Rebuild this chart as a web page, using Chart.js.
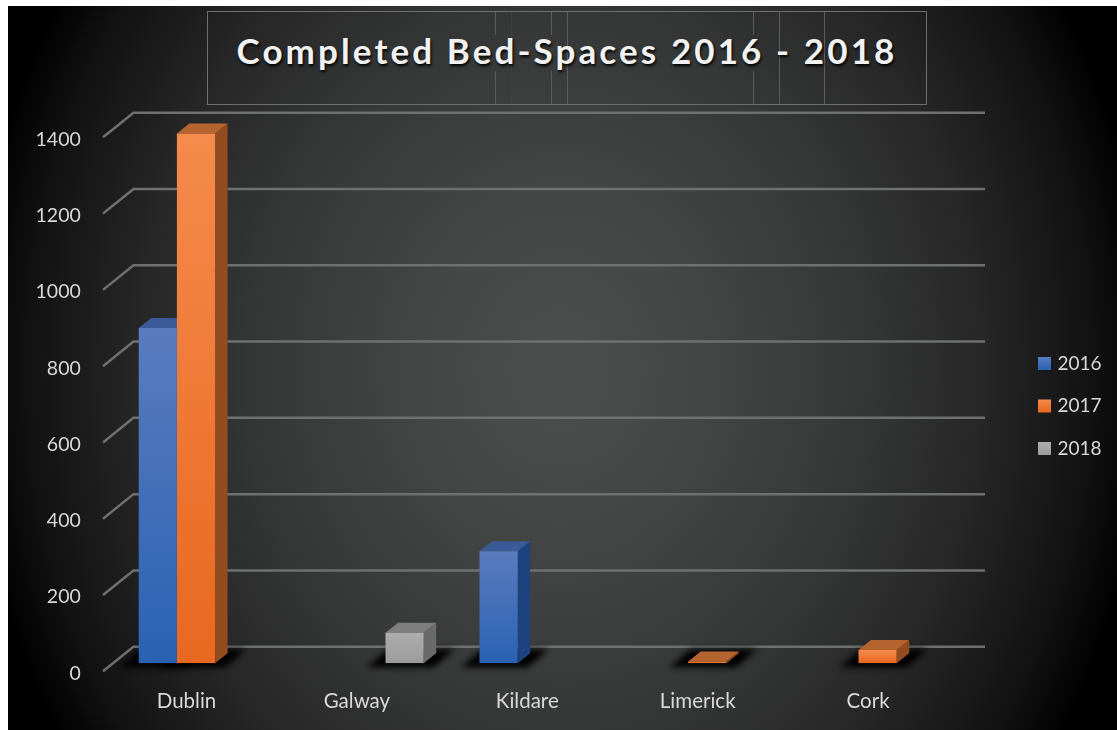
<!DOCTYPE html>
<html lang="en">
<head>
  <meta charset="UTF-8" />
  <title>Completed Bed-Spaces 2016 - 2018</title>
  <script src="https://cdn.jsdelivr.net/npm/chart.js"></script>
  <style>
    html, body { margin: 0; padding: 0; background: #fff; overflow: hidden; }
    #panel {
      position: absolute; left: 8px; top: 6px; width: 1109px; height: 724px;
      background: radial-gradient(ellipse 590px 700px at 552px 362px, #4c4e4d 0%, #454746 22%, #363737 50%, #252625 72%, #121212 90%, #000 100%);
    }
    #titlebox {
      position: absolute; left: 207px; top: 11px; width: 718px; height: 92px;
      border: 1px solid #6f6f6f;
    }
    #titlebox h1 {
      position: absolute; left: 0; right: 0; top: 17px; margin: 0; text-align: center;
      font: 700 35px Lato, sans-serif; letter-spacing: 3.1px; color: #f2f2f2;
      text-shadow: 1px 2px 3px #000;
    }
    .seam { position: absolute; width: 1px; top: 0; bottom: 0; background: #5c5c5c; }
    .seam.cut { background: linear-gradient(to bottom, #5c5c5c 0 23px, transparent 23px 59px, #5c5c5c 59px); }
    .seam.faint { background: #3f4040; }
    #wrap { position: absolute; left: 0; top: 0; width: 1117px; height: 730px; }
  </style>
</head>
<body>
  <div id="panel"></div>
  <div id="titlebox">
    <div class="seam cut" style="left:287px"></div>
    <div class="seam faint" style="left:303px"></div>
    <div class="seam cut" style="left:343px"></div>
    <div class="seam" style="left:359px"></div>
    <div class="seam cut" style="left:545px"></div>
    <div class="seam" style="left:571px"></div>
    <div class="seam" style="left:616px"></div>
    <h1>Completed Bed-Spaces 2016 - 2018</h1>
  </div>
  <div id="wrap"><canvas id="bedChart" width="1117" height="730"></canvas></div>

  <script>
    const categories = ['Dublin', 'Galway', 'Kildare', 'Limerick', 'Cork'];
    const values2016 = [879, null, 294, null, null];
    const values2017 = [1389, null, null, 5, 35];
    const values2018 = [null, 80, null, null, null];
    const tickStep = 200;
    const tickMax = 1400;

    // front light -> front dark, side, top
    const blue = { light: '#5a7cc0', dark: '#2a62b2', side: '#1c4380', top: '#3a5b98' };
    const orange = { light: '#f58b4c', dark: '#e8681f', side: '#934b20', top: '#b5642f' };
    const grey = { light: '#adadad', dark: '#9b9b9b', side: '#6a6a6a', top: '#7f7f7f' };

    const depthX = 12.5, depthY = 10;

    function barFill(colors) {
      return c => {
        const chart = c.chart;
        if (c.type !== 'data' || !chart.chartArea || c.raw == null) return colors.dark;
        const y = chart.scales.y;
        const g = chart.ctx.createLinearGradient(0, y.getPixelForValue(c.raw), 0, y.getPixelForValue(0));
        g.addColorStop(0, colors.light);
        g.addColorStop(1, colors.dark);
        return g;
      };
    }

    function poly(ctx, pts, fill) {
      ctx.beginPath();
      pts.forEach((p, i) => i ? ctx.lineTo(p[0], p[1]) : ctx.moveTo(p[0], p[1]));
      ctx.closePath();
      ctx.fillStyle = fill;
      ctx.fill();
    }

    const depthPlugin = {
      id: 'depth',
      beforeDatasetsDraw(chart) {
        const ctx = chart.ctx, yScale = chart.scales.y;
        ctx.save();
        ctx.strokeStyle = '#6f7070';
        ctx.lineWidth = 2.5;
        yScale.ticks.forEach(t => {
          const y = yScale.getPixelForValue(t.value);
          ctx.beginPath();
          ctx.moveTo(103, y + 8);
          ctx.lineTo(133.5, y - 16.6);
          ctx.lineTo(985, y - 16.6);
          ctx.stroke();
        });

        chart.data.datasets.forEach((ds, i) => {
          chart.getDatasetMeta(i).data.forEach((bar, j) => {
            if (ds.data[j] == null) return;
            const l = bar.x - bar.width / 2, r = bar.x + bar.width / 2, b = bar.base;
            ctx.save();
            ctx.filter = 'blur(3px)';
            poly(ctx, [[l - 19, b + 4], [r + 10, b + 4], [r + 31, b - 14], [l + 3, b - 14]], '#000');
            ctx.restore();
          });
        });

        chart.data.datasets.forEach((ds, i) => {
          const colors = ds.faces;
          chart.getDatasetMeta(i).data.forEach((bar, j) => {
            if (ds.data[j] == null) return;
            const l = bar.x - bar.width / 2, r = bar.x + bar.width / 2, t = bar.y, b = bar.base;
            poly(ctx, [[r, t], [r + depthX, t - depthY], [r + depthX, b - depthY], [r, b]], colors.side);
            poly(ctx, [[l, t], [l + depthX, t - depthY], [r + depthX, t - depthY], [r, t]], colors.top);
          });
        });
        ctx.restore();
      },
      afterLayout(chart) {
        // legend sits away from the plot, move its box over there
        const lg = chart.legend;
        lg.left = 1017.5;
        lg.right = 1117;
        lg.top = 330.5;
        lg.bottom = 730;
      }
    };

    function legendLabels(chart) {
      return Chart.defaults.plugins.legend.labels.generateLabels(chart).map((item, i) => {
        const colors = chart.data.datasets[i].faces;
        const top = 357 + i * 42.5;
        const g = chart.ctx.createLinearGradient(0, top, 0, top + 13);
        g.addColorStop(0, colors.light);
        g.addColorStop(1, colors.dark);
        // small box plus thick stroke: keeps the text close to a 13px swatch
        return Object.assign(item, { fillStyle: g, strokeStyle: g, lineWidth: 6 });
      });
    }

    new Chart(document.getElementById('bedChart'), {
      type: 'bar',
      data: {
        labels: categories,
        datasets: [
          { label: '2016', data: values2016, backgroundColor: barFill(blue), faces: blue },
          { label: '2017', data: values2017, backgroundColor: barFill(orange), faces: orange },
          { label: '2018', data: values2018, backgroundColor: barFill(grey), faces: grey }
        ]
      },
      options: {
        responsive: false,
        animation: false,
        datasets: { bar: { barPercentage: 1, categoryPercentage: 0.6725 } },
        layout: { padding: { top: 129.3, right: 90.2, bottom: 0, left: 0 } },
        plugins: {
          title: { display: false },
          tooltip: { enabled: false },
          legend: {
            position: 'right',
            align: 'start',
            maxWidth: 64,
            labels: {
              boxWidth: 7,
              boxHeight: 7,
              padding: 23.5,
              color: '#d9d9d9',
              font: { family: 'Lato', size: 19 },
              generateLabels: legendLabels
            }
          }
        },
        scales: {
          x: {
            grid: { display: false },
            border: { display: false },
            ticks: {
              color: '#d9d9d9',
              padding: 18,
              labelOffset: -9.5,
              maxRotation: 0,
              font: { family: 'Lato', size: 20.5 }
            },
            afterFit: s => { s.height = 66.7; }
          },
          y: {
            min: 0,
            max: tickMax,
            grid: { display: false, drawTicks: false },
            border: { display: false },
            ticks: {
              stepSize: tickStep,
              color: '#d9d9d9',
              padding: 30,
              labelOffset: 10.2,
              font: { family: 'Lato', size: 19.5 },
              callback: v => String(v)
            },
            afterFit: s => { s.width = 110.8; }
          }
        }
      },
      plugins: [depthPlugin]
    });
  </script>
</body>
</html>
